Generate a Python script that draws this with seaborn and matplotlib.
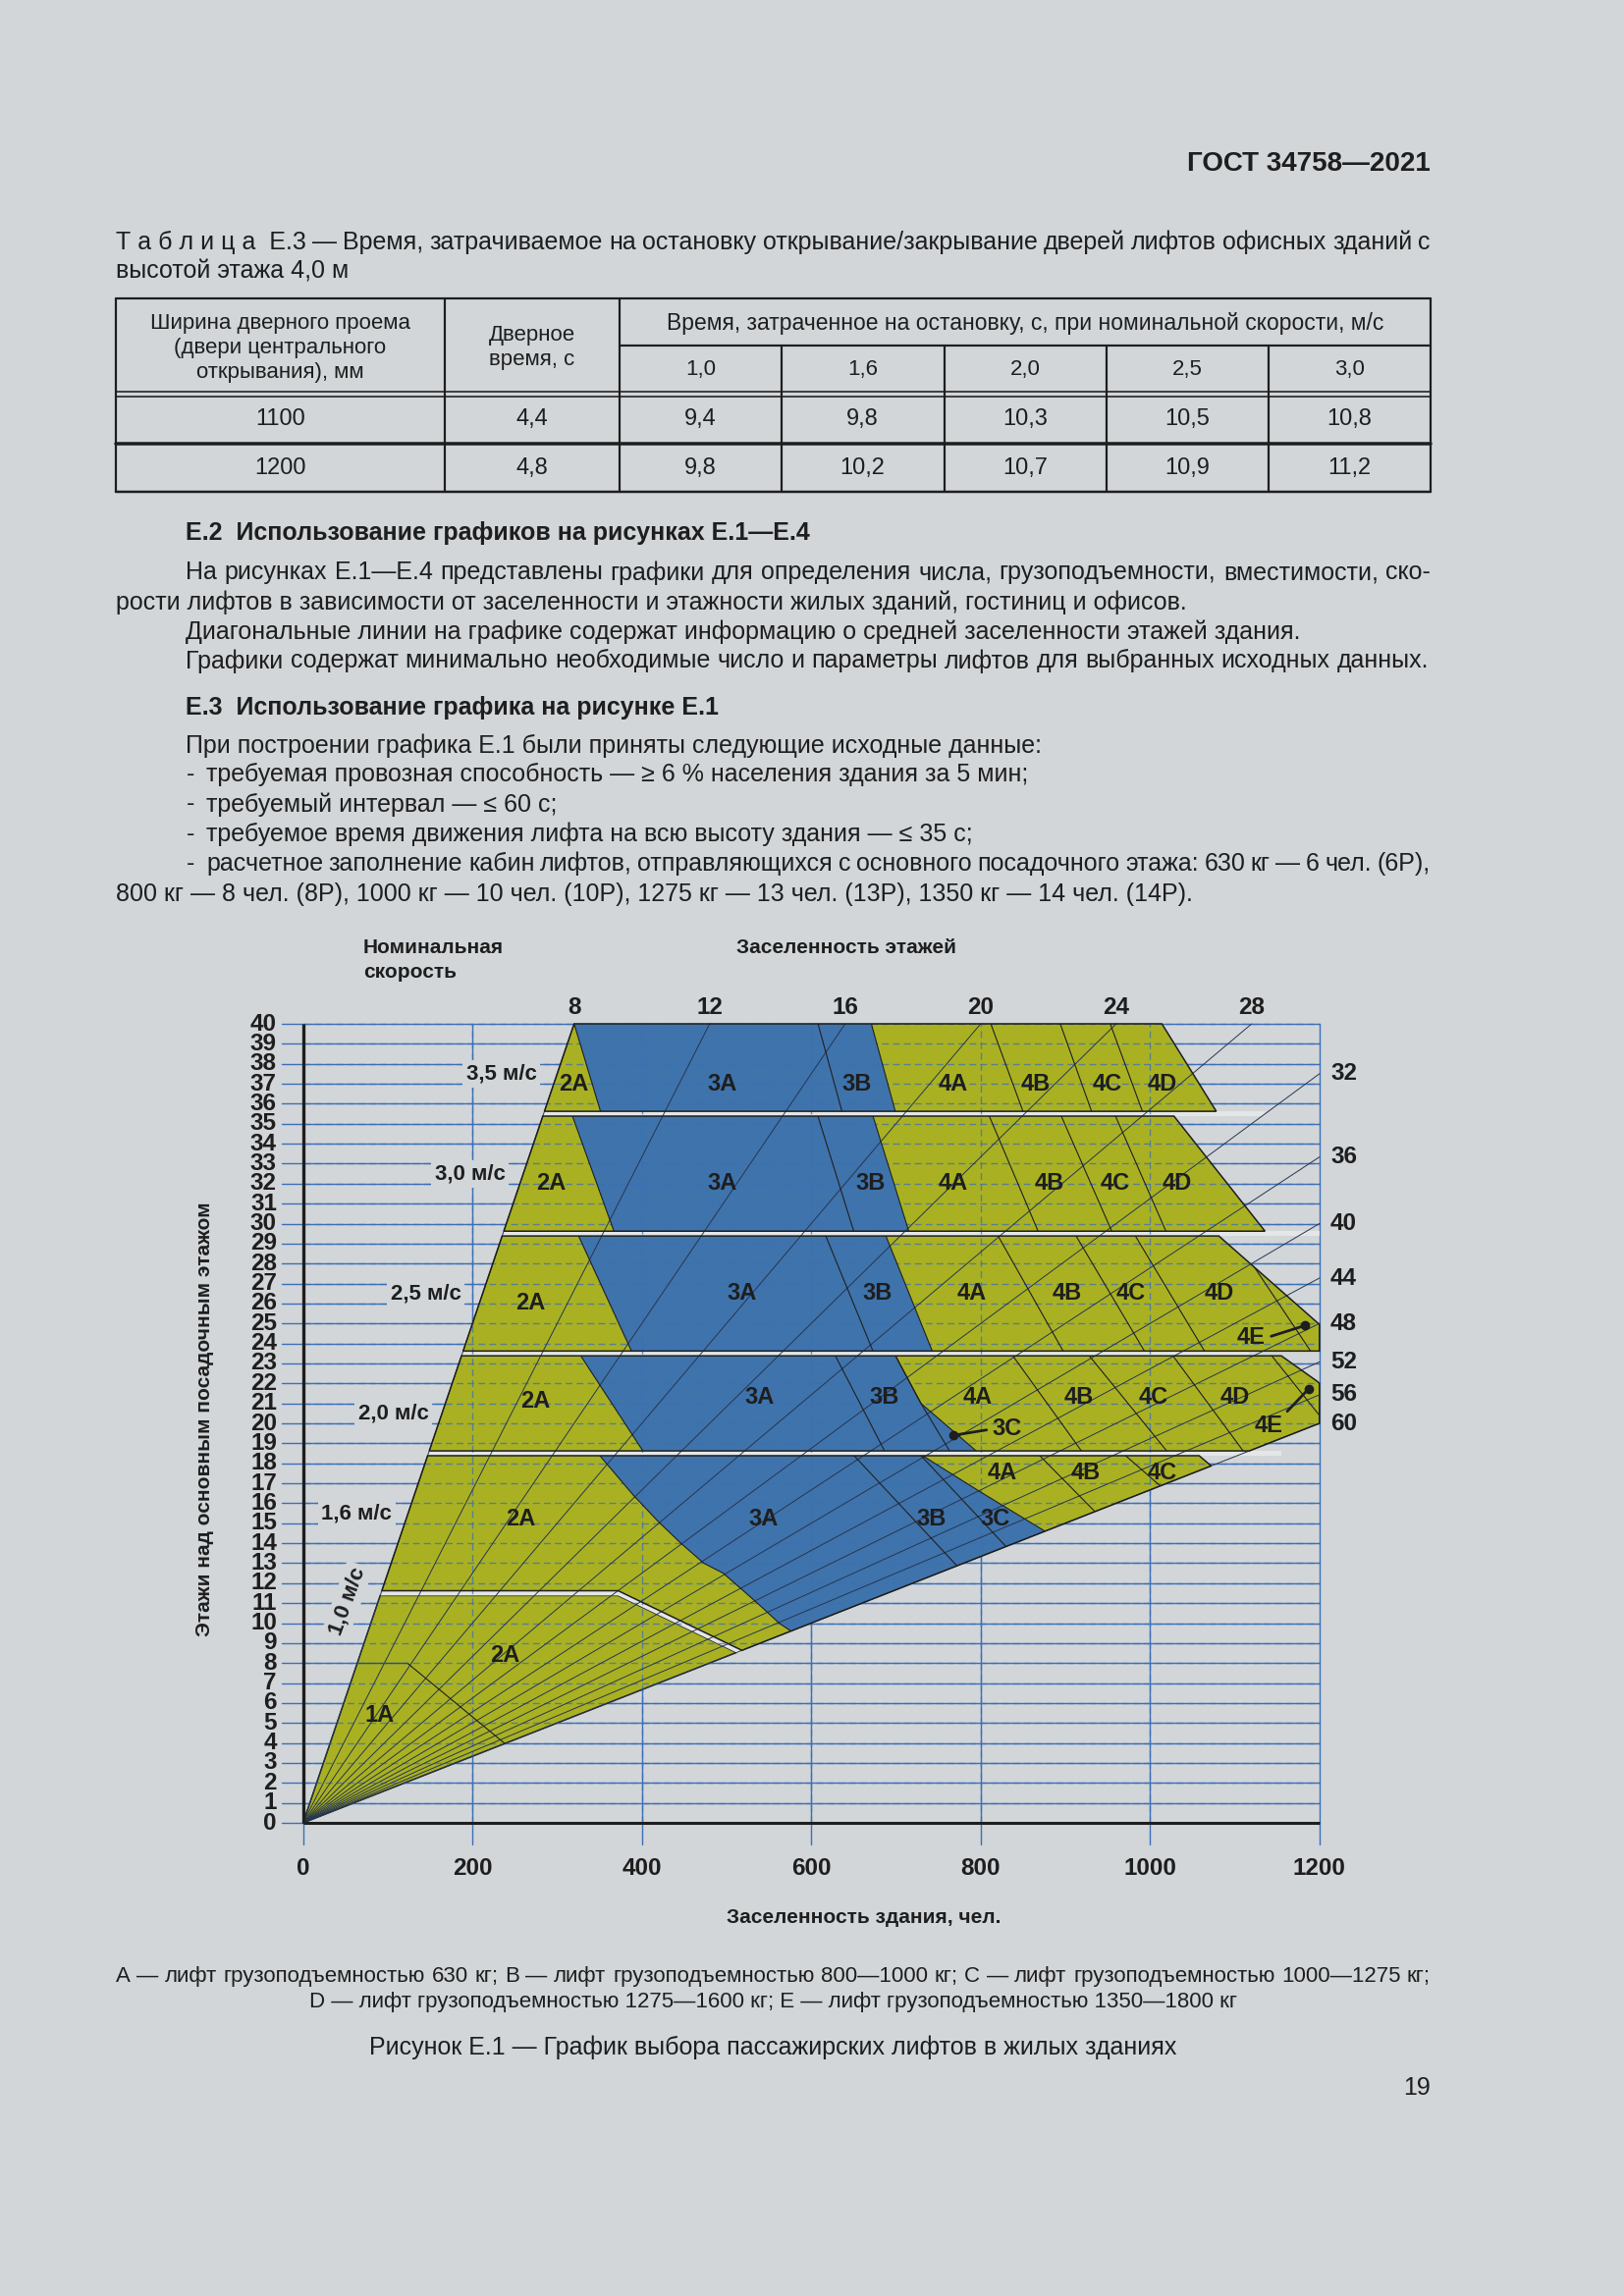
import numpy as np
import pandas as pd
import matplotlib
matplotlib.use("Agg")
import matplotlib.pyplot as plt
import seaborn as sns
from matplotlib.patches import Polygon

# ------------------------------------------------------------------ data
table_door_width = ["1100", "1200"]
table_door_time = ["4,4", "4,8"]
table_speeds = ["1,0", "1,6", "2,0", "2,5", "3,0"]
table_stop_1100 = ["9,4", "9,8", "10,3", "10,5", "10,8"]
table_stop_1200 = ["9,8", "10,2", "10,7", "10,9", "11,2"]

floor_ticks = list(range(0, 41))
population_ticks = [0, 200, 400, 600, 800, 1000, 1200]
floor_density = [8, 12, 16, 20, 24, 28, 32, 36, 40, 44, 48, 52, 56, 60]
density_top_labels = [8, 12, 16, 20, 24, 28]
density_right_labels = [32, 36, 40, 44, 48, 52, 56, 60]

speed_names = ["3,5 м/с", "3,0 м/с", "2,5 м/с", "2,0 м/с", "1,6 м/с", "1,0 м/с"]
speed_name_xy = [(234, 37.5), (197, 32.5), (145, 26.5), (107, 20.5), (63, 15.5), (52, 11.1)]
band_separators = [35.5, 29.5, 23.5, 18.5]

# band 3,5 m/s
band35_floors = (35.5, 40.0)
band35_zones = ["2A", "3A", "3B", "4A", "4B", "4C", "4D"]
band35_bounds = [[(320, 40), (352, 35.5)], [(608, 40), (637, 35.5)], [(671, 40), (700, 35.5)],
                 [(812, 40), (851, 35.5)], [(894, 40), (932, 35.5)], [(953, 40), (992, 35.5)]]
band35_right = [(1014, 40), (1080, 35.5)]
band35_label_xy = [(319, 37.0), (495, 37.0), (654, 37.0), (767, 37.0), (865, 37.0), (949, 37.0), (1014, 37.0)]

# band 3,0 m/s
band30_floors = (29.5, 35.5)
band30_zones = ["2A", "3A", "3B", "4A", "4B", "4C", "4D"]
band30_bounds = [[(317, 35.5), (368, 29.5)], [(607, 35.5), (651, 29.5)], [(672, 35.5), (716, 29.5)],
                 [(809, 35.5), (869, 29.5)], [(894, 35.5), (956, 29.5)], [(958, 35.5), (1020, 29.5)]]
band30_right = [(1026, 35.5), (1138, 29.5)]
band30_label_xy = [(293, 32.0), (495, 32.0), (670, 32.0), (767, 32.0), (881, 32.0), (959, 32.0), (1032, 32.0)]

# band 2,5 m/s
band25_floors = (23.5, 29.5)
band25_zones = ["2A", "3A", "3B", "4A", "4B", "4C", "4D", "4E"]
band25_bounds = [[(324, 29.5), (389, 23.5)], [(616, 29.5), (674, 23.5)], [(687, 29.5), (744, 23.5)],
                 [(819, 29.5), (899, 23.5)], [(911, 29.5), (995, 23.5)], [(981, 29.5), (1066, 23.5)],
                 [(1123.5, 27.8), (1191.4, 23.5)]]
band25_right = [(1078, 29.5), (1200, 24.95), (1200, 23.5)]
band25_label_xy = [(269, 26.0), (518, 26.5), (678, 26.5), (790, 26.5), (902, 26.5), (977, 26.5), (1082, 26.5), (1119, 24.3)]

# band 2,0 m/s
band20_floors = (18.5, 23.5)
band20_zones = ["2A", "3A", "3B", "3C", "4A", "4B", "4C", "4D", "4E"]
band20_bounds = [[(326, 23.5), (403, 18.5)], [(627, 23.5), (688, 18.5)],
                 [(698, 23.5), (729.5, 21.0), (765, 18.5)], [(698, 23.5), (729.5, 21.0), (798, 18.5)],
                 [(836, 23.5), (921, 18.5)], [(926, 23.5), (1022, 18.5)], [(1025, 23.5), (1112, 18.5)],
                 [(1141.5, 23.5), (1200, 20.4)]]
band20_right = [(1151, 23.5), (1197.5, 22.1), (1200, 22.0), (1200, 20.0), (1110, 18.5)]
band20_label_xy = [(274, 21.1), (539, 21.3), (686, 21.3), (830, 19.75), (797, 21.3), (916, 21.3), (1004, 21.3), (1100, 21.3), (1140, 19.9)]

# band 1,6 m/s
band16_floors = (11.5, 18.5)
band16_zones = ["2A", "3A", "3B", "3C", "4A", "4B", "4C"]
band16_bounds = [[(348, 18.5), (390, 16.4), (419, 15.1), (446, 14.0), (473, 13.0), (496, 12.5),
                  (519, 11.65), (539, 10.9), (562, 10.0), (576, 9.6)],
                 [(648, 18.5), (772, 12.87)], [(727, 18.5), (830, 13.83)],
                 [(727, 18.5), (800, 16.56), (876, 14.6)], [(867, 18.5), (935, 15.58)],
                 [(968, 18.5), (1012, 16.87)]]
band16_top_right = [(1058, 18.5), (1072.2, 17.87)]
band16_label_xy = [(257, 15.2), (544, 15.2), (742, 15.2), (817, 15.2), (825, 17.5), (924, 17.5), (1014, 17.5)]

# band 1,0 m/s
band10_separator = [(11.5 * 8, 11.5), (372, 11.5), (515, 8.58)]
band10_zone_1A = [(64, 8), (123, 8), (238.2, 3.97)]
band10_labels = ["1A", "2A"]
band10_label_xy = [(90, 5.4), (238, 8.4)]

pointer_3C = [(807, 19.67), (767.9, 19.4)]
pointer_4E_25 = [(1143, 24.36), (1183.2, 24.9)]
pointer_4E_20 = [(1162, 20.6), (1187.1, 21.72)]

# ------------------------------------------------------------------ style
sns.set_theme(style="white")
plt.rcParams["font.family"] = ["Liberation Sans", "DejaVu Sans"]

BG = "#d2d6d9"
YEL = "#a9b122"
BLU = "#3f73ac"
GRID = "#3d6fb6"
INK = "#1e1e1e"
STRIP = "#e4e6e7"

W, H = 1654, 2339
fig = plt.figure(figsize=(W / 100, H / 100), dpi=100, facecolor=BG)
page = fig.add_axes([0, 0, 1, 1])
page.set_xlim(0, W)
page.set_ylim(H, 0)
page.axis("off")
page.set_facecolor(BG)
renderer = fig.canvas.get_renderer()


def text_width(s, **kw):
    t = page.text(0, 0, s, **kw)
    w = t.get_window_extent(renderer).width
    t.remove()
    return w


def justified(line, x0, x1, y, **kw):
    words = line.split(" ")
    widths = [text_width(w, **kw) for w in words]
    gap = (x1 - x0 - sum(widths)) / max(len(words) - 1, 1)
    x = x0
    for w, wd in zip(words, widths):
        page.text(x, y, w, ha="left", va="center", color=INK, **kw)
        x += wd + gap


BODY = 18
# header
page.text(1457, 167, "ГОСТ 34758—2021", ha="right", va="center", fontsize=20, weight="bold", color=INK)
justified("Т\u00a0а\u00a0б\u00a0л\u00a0и\u00a0ц\u00a0а\u00a0\u00a0Е.3 — Время, затрачиваемое на остановку открывание/закрывание "
          "дверей лифтов офисных зданий с", 118, 1457, 246.7, fontsize=BODY)
page.text(118, 276.7, "высотой этажа 4,0 м", ha="left", va="center", fontsize=BODY, color=INK)

# table
cols = [117.9, 452.7, 631.3, 795.5, 961.6, 1126.8, 1292, 1457.1]
t_top, t_mid, t_h1, t_h2, t_r1, t_r2 = 304, 351.7, 399.3, 404, 451.7, 500.7
lw_px = 0.72
page.plot([cols[0], cols[-1]], [t_top, t_top], color=INK, lw=2.2 * lw_px)
page.plot([cols[2], cols[-1]], [t_mid, t_mid], color=INK, lw=2.2 * lw_px)
page.plot([cols[0], cols[-1]], [t_h1, t_h1], color=INK, lw=1.6 * lw_px)
page.plot([cols[0], cols[-1]], [t_h2, t_h2], color=INK, lw=1.6 * lw_px)
page.plot([cols[0], cols[-1]], [t_r1, t_r1], color=INK, lw=3.5 * lw_px)
page.plot([cols[0], cols[-1]], [t_r2, t_r2], color=INK, lw=2.5 * lw_px)
for i, cx in enumerate(cols):
    y0 = t_top if i in (0, 1, 2, 7) else t_mid
    page.plot([cx, cx], [y0, t_r2], color=INK, lw=2.2 * lw_px)
TF = 16
c1 = (cols[0] + cols[1]) / 2
c2 = (cols[1] + cols[2]) / 2
for s, y in zip(["Ширина дверного проема", "(двери центрального", "открывания), мм"], [329.3, 354.3, 379]):
    page.text(c1, y, s, ha="center", va="center", fontsize=TF, color=INK)
for s, y in zip(["Дверное", "время, с"], [341.7, 366.7]):
    page.text(c2, y, s, ha="center", va="center", fontsize=TF, color=INK)
page.text((cols[2] + cols[-1]) / 2, 329.3, "Время, затраченное на остановку, с, при номинальной скорости, м/с",
          ha="center", va="center", fontsize=16.5, color=INK)
for i, sp in enumerate(table_speeds):
    page.text((cols[2 + i] + cols[3 + i]) / 2, 376.7, sp, ha="center", va="center", fontsize=TF, color=INK)
for r, (wd, dt, vals) in enumerate(zip(table_door_width, table_door_time, [table_stop_1100, table_stop_1200])):
    y = [426.7, 476.7][r]
    page.text(c1, y, wd, ha="center", va="center", fontsize=TF + 1, color=INK)
    page.text(c2, y, dt, ha="center", va="center", fontsize=TF + 1, color=INK)
    for i, v in enumerate(vals):
        page.text((cols[2 + i] + cols[3 + i]) / 2, y, v, ha="center", va="center", fontsize=TF + 1, color=INK)

# paragraphs
page.text(189.4, 543.3, "Е.2  Использование графиков на рисунках Е.1—Е.4", ha="left", va="center",
          fontsize=BODY, weight="bold", color=INK)
justified("На рисунках Е.1—Е.4 представлены графики для определения числа, грузоподъемности, вместимости, ско-",
          189.4, 1457, 583.3, fontsize=BODY)
page.text(118, 613.3, "рости лифтов в зависимости от заселенности и этажности жилых зданий, гостиниц и офисов.",
          ha="left", va="center", fontsize=BODY, color=INK)
page.text(189.4, 644, "Диагональные линии на графике содержат информацию о средней заселенности этажей здания.",
          ha="left", va="center", fontsize=BODY, color=INK)
justified("Графики содержат минимально необходимые число и параметры лифтов для выбранных исходных данных.",
          189.4, 1455, 673.3, fontsize=BODY)
page.text(189.4, 720.7, "Е.3  Использование графика на рисунке Е.1", ha="left", va="center",
          fontsize=BODY, weight="bold", color=INK)
page.text(189.4, 759.3, "При построении графика Е.1 были приняты следующие исходные данные:",
          ha="left", va="center", fontsize=BODY, color=INK)
for s, y in zip(["требуемая провозная способность — ≥ 6 % населения здания за 5 мин;",
                 "требуемый интервал — ≤ 60 с;",
                 "требуемое время движения лифта на всю высоту здания — ≤ 35 с;"], [789.3, 819.3, 850]):
    page.text(190, y, "-", ha="left", va="center", fontsize=BODY, color=INK)
    page.text(210, y, s, ha="left", va="center", fontsize=BODY, color=INK)
page.text(190, 880, "-", ha="left", va="center", fontsize=BODY, color=INK)
justified("расчетное заполнение кабин лифтов, отправляющихся с основного посадочного этажа: 630 кг — 6 чел. (6Р),",
          210, 1457, 880, fontsize=BODY)
page.text(118, 910.7, "800 кг — 8 чел. (8Р), 1000 кг — 10 чел. (10Р), 1275 кг — 13 чел. (13Р), 1350 кг — 14 чел. (14Р).",
          ha="left", va="center", fontsize=BODY, color=INK)

# legend / caption
justified("A — лифт грузоподъемностью 630 кг; B — лифт грузоподъемностью 800—1000 кг; C — лифт грузоподъемностью 1000—1275 кг;",
          118, 1457, 2013.3, fontsize=16)
page.text(787.5, 2040, "D — лифт грузоподъемностью 1275—1600 кг; E — лифт грузоподъемностью 1350—1800 кг",
          ha="center", va="center", fontsize=16, color=INK)
page.text(787.5, 2086, "Рисунок Е.1 — График выбора пассажирских лифтов в жилых зданиях",
          ha="center", va="center", fontsize=18, color=INK)
page.text(1457, 2126.7, "19", ha="right", va="center", fontsize=18, color=INK)

# ------------------------------------------------------------------ chart
ax = fig.add_axes([0.118839, 0.153869, 0.730121, 0.443715])
ax.set_xlim(-130, 1270)
ax.set_ylim(-6, 45)
ax.axis("off")
ax.patch.set_alpha(0)

TICK = dict(fontsize=17.5, weight="bold", color=INK)
LAB = dict(fontsize=15, weight="bold", color=INK)
ZLAB = dict(fontsize=17, weight="bold", color=INK)
SLAB = dict(fontsize=16, weight="bold", color=INK)
G = 0.12


def seg_point(poly, y):
    for (xa, ya), (xb, yb) in zip(poly[:-1], poly[1:]):
        if min(ya, yb) - 1e-9 <= y <= max(ya, yb) + 1e-9 and ya != yb:
            return (xa + (xb - xa) * (y - ya) / (yb - ya), y)
    (xa, ya), (xb, yb) = (poly[0], poly[1]) if y > poly[0][1] else (poly[-2], poly[-1])
    return (xa + (xb - xa) * (y - ya) / (yb - ya), y)


def portion(poly, y_hi, y_lo):
    out = [seg_point(poly, y_hi)]
    out += [p for p in poly if y_lo < p[1] < y_hi]
    out.append(seg_point(poly, y_lo))
    return out


def extend(poly, y_top, y_bot):
    pts = list(poly)
    (x0, y0), (x1, y1) = pts[0], pts[1]
    top = (x0 + (x1 - x0) * (y_top - y0) / (y1 - y0), y_top)
    (xa, ya), (xb, yb) = pts[-2], pts[-1]
    bot = (xb + (xb - xa) * (y_bot - yb) / (yb - ya), y_bot)
    return [top] + pts + [bot]


def zone_color(name):
    return BLU if name.startswith("3") else YEL


def draw_band(outline, zones, bounds, labels_xy, y_hi, y_lo, label_skip=()):
    clip = Polygon(outline, closed=True, transform=ax.transData)
    far_l = [(-3000, y_hi + 6), (-3000, y_lo - 6)]
    far_r = [(4000, y_hi + 6), (4000, y_lo - 6)]
    ext = [far_l] + [extend(b, y_hi + 6, y_lo - 6) for b in bounds] + [far_r]
    for i, name in enumerate(zones):
        poly = ext[i] + ext[i + 1][::-1]
        p = Polygon(poly, closed=True, facecolor=zone_color(name), edgecolor="none", zorder=2)
        ax.add_patch(p)
        p.set_clip_path(clip)
    for b in ext[1:-1]:
        xs, ys = zip(*b)
        ln, = ax.plot(xs, ys, color=INK, lw=0.8, zorder=4)
        ln.set_clip_path(clip)
    ax.add_patch(Polygon(outline, closed=True, fill=False, edgecolor=INK, lw=1.1, zorder=4.2))
    for name, (lx, ly) in zip(zones, labels_xy):
        if name in label_skip:
            continue
        ax.text(lx, ly, name, ha="center", va="center", zorder=6, **ZLAB)


# base grid (solid)
for f in floor_ticks:
    ax.plot([-25, 1200], [f, f], color=GRID, lw=1.0, zorder=1)
for p in population_ticks:
    ax.plot([p, p], [-1.1, 40], color=GRID, lw=1.0, zorder=1)

# bands with standard outline
std = [(band35_floors, band35_zones, band35_bounds, band35_right, band35_label_xy, True),
       (band30_floors, band30_zones, band30_bounds, band30_right, band30_label_xy, False),
       (band25_floors, band25_zones, band25_bounds, band25_right, band25_label_xy, False),
       (band20_floors, band20_zones, band20_bounds, band20_right, band20_label_xy, False)]
right_ends = {}
for (lo, hi), zones, bounds, right, lxy, is_top in std:
    y_hi = hi if is_top else hi - G
    y_lo = lo + G
    outline = [(8 * y_hi, y_hi)] + portion(right, y_hi, y_lo) + [(8 * y_lo, y_lo)]
    right_ends[(hi, "bottom")] = outline[-2][0]
    right_ends[(lo, "top")] = outline[1][0]
    skip = ("3C",) if "3C" in zones else ()
    draw_band(outline, zones, bounds, lxy, y_hi, y_lo, label_skip=skip)

# band 1,6
sep = band10_separator
slope = (sep[2][1] - sep[1][1]) / (sep[2][0] - sep[1][0])
yu = sep[1][1] + G
y_int_u = (yu - slope * sep[1][0]) / (1 - 60 * slope)
yl = sep[1][1] - G
y_int_l = (yl - slope * sep[1][0]) / (1 - 60 * slope)
y16_hi = band16_floors[1] - G
out16 = [(8 * y16_hi, y16_hi), (band16_top_right[0][0], y16_hi), band16_top_right[1],
         (60 * y_int_u, y_int_u), (sep[1][0], yu), (8 * yu, yu)]
draw_band(out16, band16_zones, band16_bounds, band16_label_xy, y16_hi, 8.5)

# band 1,0
out10 = [(0, 0), (8 * yl, yl), (sep[1][0], yl), (60 * y_int_l, y_int_l)]
ax.add_patch(Polygon(out10, closed=True, facecolor=YEL, edgecolor=INK, lw=1.1, zorder=2))
xs, ys = zip(*band10_zone_1A[1:])
ax.plot(xs, ys, color=INK, lw=0.8, zorder=4)
ax.plot([band10_zone_1A[0][0], band10_zone_1A[1][0]], [8, 8], color="#2d4f80", lw=1.0, zorder=4)
for name, (lx, ly) in zip(band10_labels, band10_label_xy):
    ax.text(lx, ly, name, ha="center", va="center", zorder=6, **ZLAB)

# separator strips
for s in band_separators:
    xmax = max(right_ends.get((s, "bottom"), 0), right_ends.get((s, "top"), 0))
    if s == 18.5:
        xmax = max(xmax, band16_top_right[0][0])
    strip = [(8 * (s + G), s + G), (xmax, s + G), (xmax, s - G), (8 * (s - G), s - G)]
    ax.add_patch(Polygon(strip, closed=True, facecolor=STRIP, edgecolor="none", zorder=2.5))
strip16 = [(8 * yu, yu), (sep[1][0], yu), (60 * y_int_u, y_int_u), (60 * y_int_l, y_int_l),
           (sep[1][0], yl), (8 * yl, yl)]
ax.add_patch(Polygon(strip16, closed=True, facecolor=STRIP, edgecolor="none", zorder=2.5))

# dashed grid over colored areas
for f in floor_ticks[1:]:
    ax.plot([0, 1200], [f, f], color=GRID, lw=1.0, ls=(0, (5, 3)), alpha=0.75, zorder=3)
for p in population_ticks[1:-1]:
    ax.plot([p, p], [0, 40], color=GRID, lw=1.0, ls=(0, (5, 3)), alpha=0.75, zorder=3)

# fan of floor-density lines (seaborn)
rows = []
for d in floor_density:
    y_end = min(40.0, 1200.0 / d)
    rows.append({"d": d, "x": 0.0, "y": 0.0})
    rows.append({"d": d, "x": d * y_end, "y": y_end})
fan = pd.DataFrame(rows)
n_before = len(ax.lines)
sns.lineplot(data=fan, x="x", y="y", units="d", estimator=None, color="#26354f", lw=0.7,
             sort=False, legend=False, ax=ax)
for ln in ax.lines[n_before:]:
    ln.set_zorder(3.5)
ax.axis("off")
ax.set_xlim(-130, 1270)
ax.set_ylim(-6, 45)

# pointers
for (p0, p1) in [pointer_3C, pointer_4E_25, pointer_4E_20]:
    ax.plot([p0[0], p1[0]], [p0[1], p1[1]], color=INK, lw=2.0, zorder=6)
    ax.plot([p1[0]], [p1[1]], "o", color=INK, ms=6, zorder=6)
ax.text(831, 19.75, "3C", ha="center", va="center", zorder=6, **ZLAB)

# axes lines
ax.plot([0, 0], [0, 40], color=INK, lw=2.4, zorder=7, solid_capstyle="butt")
ax.plot([0, 1200], [0, 0], color=INK, lw=2.2, zorder=7, solid_capstyle="butt")

# tick labels
for f in floor_ticks:
    ax.text(-31, f, str(f), ha="right", va="center", **TICK)
for p in population_ticks:
    ax.text(p, -2.3, str(p), ha="center", va="center", **TICK)
for d in density_top_labels:
    ax.text(d * 40, 40.8, str(d), ha="center", va="center", **TICK)
for d in density_right_labels:
    ax.text(1213, 1200.0 / d, str(d), ha="left", va="center", **TICK)

# speed labels
for i, (name, (sx, sy)) in enumerate(zip(speed_names, speed_name_xy)):
    rot = 70 if i == len(speed_names) - 1 else 0
    ax.text(sx, sy, name, ha="center", va="center", rotation=rot, zorder=6,
            bbox=dict(facecolor=BG, edgecolor="none", pad=2.5), **SLAB)

# titles
ax.text(70.7, 43.83, "Номинальная", ha="left", va="center", **LAB)
ax.text(70.7, 42.57, "скорость", ha="left", va="center", **LAB)
ax.text(641, 43.83, "Заселенность этажей", ha="center", va="center", **LAB)
ax.text(-116, 20.2, "Этажи над основным посадочным этажом", rotation=90, ha="center", va="center", **LAB)
ax.text(662, -4.73, "Заселенность здания, чел.", ha="center", va="center", fontsize=15, weight="bold", color=INK)

fig.savefig("out.png", dpi=100, facecolor=BG)
